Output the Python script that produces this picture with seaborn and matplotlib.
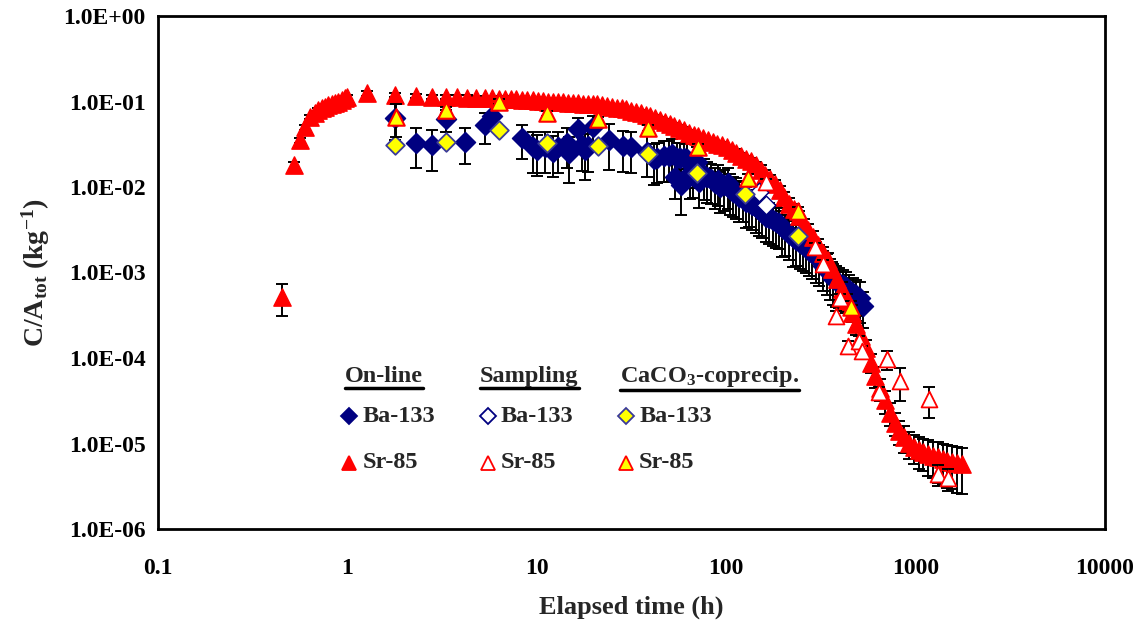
import numpy as np
import pandas as pd
import seaborn as sns
import matplotlib
matplotlib.use('Agg')
import matplotlib.pyplot as plt
from matplotlib.ticker import FixedLocator, FuncFormatter, NullLocator


# On-line Sr-85 (tempo em h, C/Atot em 1/kg, erro relativo)
sr_on_t = [0.45, 0.52, 0.56, 0.60, 0.635, 0.67, 0.70, 0.73, 0.76, 0.79,
           0.83, 0.86, 0.89, 0.94, 0.97, 1.0, 1.27, 1.78, 2.3, 2.8,
           3.33, 3.8, 4.3, 4.8,
           5.3, 5.8, 6.3, 6.8, 7.3, 7.8, 8.3, 8.9, 9.5, 10.1,
           10.8, 11.5, 12.2, 13, 13.8, 14.6, 15.5, 16.5, 17.5, 18.6,
           19.7, 20.9, 22.2, 23.5, 25, 26.5, 28, 29.7, 31.5, 33.4,
           35.4, 37.5, 39.8, 42.2, 44.7, 47.4, 50.2, 53.2, 56.4, 59.8,
           63.4, 67.2, 71.2, 75.5, 80, 84.8, 89.9, 95.3, 101, 107,
           113, 120, 127, 135, 143, 152, 161, 171, 181, 192,
           203, 215, 228, 242, 256, 271, 288, 305, 323, 343,
           363, 385, 408, 433, 459, 486, 515, 546, 579, 614,
           651, 690, 731, 775, 822, 871, 923, 979, 1038, 1100,
           1166, 1236, 1310, 1389, 1472, 1560, 1654, 1753]
sr_on_c = [5.2e-4, 0.018, 0.035, 0.050, 0.066, 0.073, 0.080, 0.084, 0.087, 0.090,
           0.094, 0.096, 0.098, 0.104, 0.110, 0.113, 0.125, 0.119, 0.116, 0.113,
           0.113, 0.112, 0.111, 0.110,
           0.110, 0.109, 0.108, 0.108, 0.107, 0.106, 0.105, 0.104, 0.103, 0.102,
           0.101, 0.100, 0.099, 0.099, 0.098, 0.097, 0.096, 0.095, 0.094, 0.094,
           0.093, 0.094, 0.091, 0.089, 0.087, 0.085, 0.083, 0.081, 0.078, 0.076,
           0.073, 0.070, 0.067, 0.064, 0.061, 0.058, 0.055, 0.052, 0.049, 0.046,
           0.043, 0.041, 0.039, 0.037, 0.035, 0.034, 0.032, 0.031, 0.029, 0.027,
           0.025, 0.023, 0.021, 0.020, 0.018, 0.016, 0.014, 0.0125, 0.0108, 0.0092,
           0.0077, 0.0064, 0.0055, 0.0046, 0.0037, 0.0031, 0.0026, 0.0021, 0.0017, 0.0014,
           0.0011, 8.5e-4, 6.4e-4, 4.6e-4, 3.4e-4, 2.5e-4, 1.8e-4, 1.3e-4, 8.8e-5, 6.2e-5,
           4.4e-5, 3.2e-5, 2.3e-5, 1.75e-5, 1.40e-5, 1.18e-5, 1.02e-5, 9.2e-6, 8.5e-6, 8.0e-6,
           7.6e-6, 7.2e-6, 6.9e-6, 6.6e-6, 6.3e-6, 6.1e-6, 5.9e-6, 5.7e-6]
sr_on_rel = [0.40, 0.10, 0.06, 0.06, 0.06, 0.06, 0.06, 0.06, 0.06, 0.06,
             0.06, 0.06, 0.06, 0.06, 0.06, 0.06, 0.06, 0.06, 0.06, 0.06,
             0.06, 0.06, 0.06, 0.06,
             0.06, 0.06, 0.06, 0.06, 0.06, 0.06, 0.06, 0.06, 0.06, 0.06,
             0.06, 0.06, 0.06, 0.06, 0.06, 0.06, 0.06, 0.06, 0.06, 0.06,
             0.06, 0.06, 0.06, 0.06, 0.06, 0.06, 0.06, 0.06, 0.06, 0.06,
             0.08, 0.08, 0.08, 0.08, 0.08, 0.08, 0.08, 0.08, 0.08, 0.08,
             0.08, 0.08, 0.08, 0.08, 0.08, 0.08, 0.08, 0.08, 0.08, 0.08,
             0.10, 0.10, 0.10, 0.10, 0.10, 0.12, 0.12, 0.12, 0.12, 0.12,
             0.15, 0.15, 0.15, 0.15, 0.15, 0.18, 0.18, 0.18, 0.18, 0.20,
             0.20, 0.20, 0.22, 0.22, 0.22, 0.25, 0.25, 0.25, 0.25, 0.28,
             0.28, 0.30, 0.30, 0.30, 0.32, 0.35, 0.35, 0.38, 0.40, 0.40,
             0.45, 0.45, 0.50, 0.50, 0.52, 0.52, 0.55, 0.55]

# On-line Ba-133
ba_on_t = [1.78, 2.3, 2.8, 3.33, 4.2, 5.3, 5.8, 8.35, 9.5, 10,
           11, 12.1, 13, 14.5, 14.8, 16.5, 17.4, 18, 18.6, 19.8,
           24, 28.5, 31.6, 38, 41.6, 43, 47, 50, 52, 53.5,
           55, 57, 58, 60, 62, 64, 67, 70, 72, 76,
           79, 83, 87, 90, 93, 97, 102, 105, 108, 112,
           117, 122, 127, 132, 137, 143, 149, 155, 162, 169,
           176, 183, 190, 197, 205, 215, 225, 235, 245, 255,
           265, 275, 285, 297, 310, 325, 340, 352, 365, 380,
           395, 412, 430, 447, 465, 485, 508, 530]
ba_on_c = [0.064, 0.033, 0.031, 0.062, 0.034, 0.053, 0.068, 0.037, 0.029, 0.027,
           0.029, 0.026, 0.029, 0.033, 0.025, 0.048, 0.031, 0.027, 0.030, 0.050,
           0.035, 0.030, 0.029, 0.026, 0.021, 0.022, 0.023, 0.023, 0.024, 0.013,
           0.022, 0.022, 0.0105, 0.022, 0.021, 0.0145, 0.015, 0.0195, 0.0115, 0.014,
           0.013, 0.0125, 0.011, 0.012, 0.010, 0.0105, 0.011, 0.0095, 0.0088, 0.0085,
           0.0077, 0.0078, 0.0067, 0.0068, 0.0062, 0.0058, 0.0054, 0.0050, 0.0045, 0.0043,
           0.0041, 0.0039, 0.0038, 0.0034, 0.0031, 0.0028, 0.0026, 0.0024, 0.0022, 0.0021,
           0.0020, 0.0018, 0.0017, 0.0015, 0.0014, 0.0012, 0.0011, 9.5e-4, 8.3e-4, 8.0e-4,
           7.6e-4, 7.2e-4, 6.8e-4, 6.3e-4, 5.7e-4, 5.4e-4, 5.1e-4, 4.1e-4]
ba_on_rel = [0.45, 0.50, 0.50, 0.30, 0.45, 0.40, 0.30, 0.42, 0.50, 0.50,
             0.50, 0.50, 0.50, 0.50, 0.55, 0.35, 0.50, 0.55, 0.50, 0.35,
             0.55, 0.50, 0.50, 0.50, 0.50, 0.50, 0.50, 0.50, 0.50, 0.45,
             0.50, 0.50, 0.55, 0.50, 0.50, 0.50, 0.50, 0.50, 0.50, 0.50,
             0.50, 0.50, 0.50, 0.50, 0.50, 0.50, 0.50, 0.50, 0.50, 0.50,
             0.50, 0.50, 0.50, 0.50, 0.50, 0.50, 0.50, 0.50, 0.50, 0.50,
             0.50, 0.50, 0.50, 0.55, 0.50, 0.50, 0.55, 0.50, 0.50, 0.50,
             0.50, 0.50, 0.50, 0.50, 0.50, 0.50, 0.50, 0.50, 0.50, 0.50,
             0.50, 0.50, 0.50, 0.50, 0.50, 0.50, 0.50, 0.45]

# Amostragem
ba_amo_t = [149, 162]
ba_amo_c = [0.0088, 0.0062]
sr_amo_t = [162, 294, 324, 380, 398, 440, 500, 520, 640, 710, 826, 1170, 1310, 1480]
sr_amo_c = [0.0114, 0.0020, 0.00126, 3.1e-4, 5.0e-4, 1.4e-4, 1.6e-4, 1.2e-4,
            4.0e-5, 9.7e-5, 5.4e-5, 3.3e-5, 4.4e-6, 3.9e-6]
sr_amo_err = [0.001, 0.0002, 0.00015, 4e-5, 6e-5, 2e-5, 2e-5, 2e-5,
              6e-6, 2.4e-5, 2.3e-5, 1.3e-5, 1.2e-6, 1.1e-6]

# CaCO3-coprecipitacao
ba_cac_t = [1.78, 3.33, 6.3, 11.3, 21, 38.6, 70, 125, 240]
ba_cac_c = [0.031, 0.034, 0.047, 0.033, 0.030, 0.024, 0.0145, 0.0083, 0.0027]
sr_cac_t = [1.8, 3.33, 6.3, 11.3, 21, 38.6, 71, 130, 240, 456]
sr_cac_c = [0.066, 0.080, 0.100, 0.073, 0.062, 0.049, 0.029, 0.0128, 0.0052, 4.0e-4]
sr_cac_err = [0.028, 0.006, 0.006, 0.005, 0.004, 0.004, 0.003, 0.0015, 0.0007, 6e-5]


sns.set_style('white')
plt.rcParams['font.family'] = ['Liberation Serif', 'DejaVu Serif']
plt.rcParams['font.weight'] = 'bold'
plt.rcParams['mathtext.fontset'] = 'custom'
plt.rcParams['mathtext.rm'] = 'Liberation Serif:bold'
plt.rcParams['mathtext.it'] = 'Liberation Serif:bold'
plt.rcParams['mathtext.bf'] = 'Liberation Serif:bold'

NAVY = '#000080'
RED = '#ff0000'
YEL = '#ffff00'

fig, ax = plt.subplots(figsize=(11.42, 6.25), dpi=100)
fig.subplots_adjust(left=0.1384, right=0.9676, top=0.9744, bottom=0.1536)


def barras(t, c, err, z):
    ax.errorbar(t, c, yerr=err, fmt='none', ecolor='black', elinewidth=1.4,
                capsize=4, capthick=1.4, zorder=z)


def pontos(t, c, marker, face, edge, s, z, lw=1.0):
    df = pd.DataFrame({'t': t, 'c': c})
    sns.scatterplot(data=df, x='t', y='c', marker=marker, color=face,
                    edgecolor=edge, linewidth=lw, s=s, zorder=z, ax=ax, legend=False)


ax.set_xscale('log')
ax.set_yscale('log')

barras(ba_on_t, ba_on_c, np.array(ba_on_c) * np.array(ba_on_rel), 1)
pontos(ba_on_t, ba_on_c, 'D', NAVY, NAVY, 105, 2)
barras(sr_on_t, sr_on_c, np.array(sr_on_c) * np.array(sr_on_rel), 3)
pontos(sr_on_t, sr_on_c, '^', RED, RED, 155, 4)
pontos(ba_amo_t, ba_amo_c, 'D', 'white', NAVY, 90, 5)
barras(sr_amo_t, sr_amo_c, sr_amo_err, 5)
pontos(sr_amo_t, sr_amo_c, '^', 'white', RED, 130, 6, lw=1.3)
pontos(ba_cac_t, ba_cac_c, 'D', YEL, '#3a3a9a', 90, 7, lw=1.3)
barras(sr_cac_t, sr_cac_c, sr_cac_err, 7)
pontos(sr_cac_t, sr_cac_c, '^', YEL, RED, 140, 8, lw=1.5)

ax.set_xlim(0.1, 10000)
ax.set_ylim(1e-6, 1)
ax.xaxis.set_major_locator(FixedLocator([0.1, 1, 10, 100, 1000, 10000]))
ax.yaxis.set_major_locator(FixedLocator([1e-6, 1e-5, 1e-4, 1e-3, 1e-2, 1e-1, 1]))
ax.xaxis.set_minor_locator(NullLocator())
ax.yaxis.set_minor_locator(NullLocator())
ax.xaxis.set_major_formatter(FuncFormatter(lambda v, p: '%g' % v))
ax.yaxis.set_major_formatter(FuncFormatter(lambda v, p: '%.1E' % v))
ax.tick_params(axis='both', direction='in', length=6, width=1, labelsize=17,
               colors='black')
ax.tick_params(axis='x', pad=21)
ax.tick_params(axis='y', pad=9)
for sp in ax.spines.values():
    sp.set_visible(True)
    sp.set_color('black')
    sp.set_linewidth(2)

ax.set_xlabel('Elapsed time (h)', fontsize=19, fontweight='bold', labelpad=12)
ax.set_ylabel(r'C/A$_\mathrm{tot}$ (kg$^\mathrm{-1}$)', fontsize=20,
              fontweight='bold', labelpad=8)

# legenda feita a mao
cab = [(0.197, 'On-line'), (0.340, 'Sampling'), (0.488, r'CaCO$_\mathrm{3}$-coprecip.')]
txts = []
for x, s in cab:
    txts.append(ax.text(x, 0.298, s, transform=ax.transAxes, fontsize=17.5,
                        fontweight='bold', va='center', ha='left'))
linhas = [
    (0.2017, 0.220, 'D', NAVY, NAVY, 'Ba-133', 8),
    (0.348, 0.220, 'D', 'white', NAVY, 'Ba-133', 8),
    (0.494, 0.220, 'D', YEL, '#3a3a9a', 'Ba-133', 8),
    (0.2017, 0.129, '^', RED, RED, 'Sr-85', 9.5),
    (0.348, 0.129, '^', 'white', RED, 'Sr-85', 9.5),
    (0.494, 0.129, '^', YEL, RED, 'Sr-85', 9.5),
]
for x, y, m, fc, ec, s, ms in linhas:
    ax.plot([x], [y], marker=m, markersize=ms, markerfacecolor=fc, markeredgecolor=ec,
            markeredgewidth=1.3, transform=ax.transAxes, clip_on=False, zorder=10)
    ax.text(x + 0.014, y, s, transform=ax.transAxes, fontsize=17.5,
            fontweight='bold', va='center', ha='left')

fig.canvas.draw()
inv = ax.transAxes.inverted()
for t in txts:
    bb = t.get_window_extent()
    (x0, y0), (x1, y1) = inv.transform([(bb.x0, bb.y0), (bb.x1, bb.y1)])
    ax.plot([x0, x1], [y0 - 0.002, y0 - 0.002], color='black', lw=2.5,
            transform=ax.transAxes, clip_on=False)

fig.savefig('out.png', dpi=100)
